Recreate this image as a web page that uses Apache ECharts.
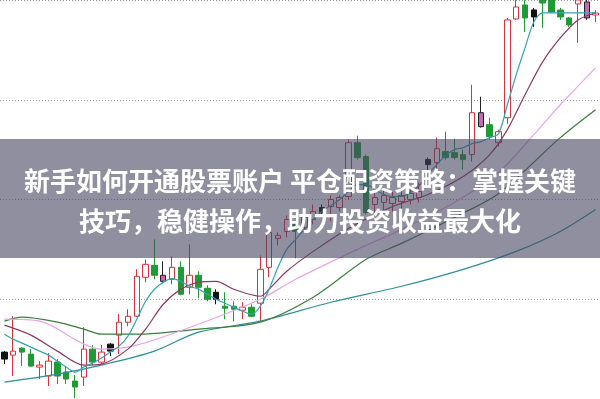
<!DOCTYPE html>
<html>
<head>
<meta charset="utf-8">
<script src="https://cdn.jsdelivr.net/npm/echarts@6/dist/echarts.min.js"></script>
<style>
  html, body { margin: 0; padding: 0; background: #fff; }
  #chart { width: 600px; height: 399px; }
</style>
</head>
<body>
<div id="chart"></div>
<script>
// K线 [开, 收, 低, 高]
const ohlc = [
  [8.47, 8.40, 8.35, 8.48], [8.44, 8.48, 8.23, 8.83], [8.51, 8.47, 8.33, 8.52], [8.45, 8.33, 8.32, 8.50],
  [8.32, 8.34, 8.20, 8.38], [8.23, 8.38, 8.13, 8.46], [8.37, 8.23, 8.15, 8.40], [8.27, 8.20, 8.15, 8.33],
  [8.18, 8.12, 8.01, 8.24], [8.22, 8.50, 8.13, 8.72], [8.50, 8.37, 8.34, 8.54], [8.37, 8.47, 8.35, 8.54],
  [8.55, 8.48, 8.43, 8.56], [8.64, 8.77, 8.45, 8.85], [8.77, 8.83, 8.73, 8.90], [8.83, 9.23, 8.82, 9.30],
  [9.22, 9.35, 9.17, 9.40], [9.34, 9.24, 9.20, 9.60], [9.24, 9.18, 9.16, 9.38], [9.20, 9.32, 9.15, 9.43],
  [9.32, 9.05, 9.04, 9.38], [9.12, 9.24, 9.05, 9.55], [9.24, 9.12, 9.01, 9.28], [9.11, 9.00, 8.98, 9.14],
  [9.07, 9.00, 8.95, 9.10], [8.93, 8.91, 8.80, 9.07], [8.93, 8.90, 8.78, 8.98], [8.89, 8.92, 8.80, 8.97],
  [8.92, 8.83, 8.82, 8.95], [8.96, 9.30, 8.78, 9.44], [9.32, 9.67, 9.22, 9.69], [9.61, 9.64, 9.54, 9.67],
  [9.68, 9.80, 9.62, 9.84], [9.78, 9.68, 9.41, 9.90], [9.72, 9.82, 9.68, 9.90], [9.80, 9.88, 9.75, 9.95],
  [9.92, 9.87, 9.82, 9.95], [9.93, 10.00, 9.78, 10.04], [9.92, 10.02, 9.88, 10.04], [10.03, 10.57, 10.00, 10.60],
  [10.57, 10.42, 10.40, 10.64], [10.43, 9.87, 9.85, 10.45], [9.95, 10.02, 9.85, 10.07], [9.97, 10.04, 9.82, 10.12],
  [9.96, 10.02, 9.88, 10.08], [9.98, 10.04, 9.90, 10.10], [10.00, 10.06, 9.95, 10.12], [10.02, 10.08, 9.97, 10.17],
  [10.40, 10.35, 10.28, 10.42], [10.37, 10.51, 10.28, 10.62], [10.48, 10.42, 10.40, 10.68], [10.47, 10.42, 10.40, 10.61],
  [10.45, 10.40, 10.30, 10.50], [10.45, 10.87, 10.38, 11.15], [10.87, 10.73, 10.72, 11.03], [10.75, 10.63, 10.60, 10.82],
  [10.57, 10.68, 10.53, 10.70], [10.82, 11.80, 10.76, 11.82], [11.81, 11.93, 11.80, 12.02], [11.95, 11.82, 11.68, 12.05],
  [11.90, 11.83, 11.73, 11.92], [12.05, 11.97, 11.72, 12.10], [12.02, 11.88, 11.87, 12.10], [11.90, 11.83, 11.80, 11.92],
  [11.82, 11.75, 11.73, 11.83], [11.96, 12.00, 11.57, 12.05], [11.98, 11.82, 11.80, 12.00], [11.85, 11.87, 11.78, 11.90]
];

// 均线（读图估值，空位由折线连接）
const ma5 = [
  8.65, 8.60, 8.56, 8.52, 8.48, 8.44, 8.38, 8.32, 8.27, 8.32, 8.36, 8.41,
  8.47, 8.53, 8.63, 8.80, 8.98, 9.10, 9.17, 9.21, 9.18, 9.13, 9.10, 9.05,
  9.00, 8.96, 8.92, 8.88, 8.85, 8.93, 9.10, 9.32, 9.50, 9.60, 9.70, 9.80,
  9.88, 9.94, 10.00, 10.08, 10.15, 10.15, 10.10, 10.05, 10.03, 10.03, 10.07, 10.14,
  10.25, 10.35, 10.44, 10.50, 10.52, 10.56, 10.58, 10.62, 10.66, 10.95, 11.25, 11.52,
  11.78, 11.87, 11.87, 11.87, 11.87, 11.87, 11.87, 11.87
];
const ma10 = {0: 8.74, 3: 8.64, 6: 8.48, 9: 8.34, 11: 8.35, 14: 8.50, 16: 8.70, 18: 8.95, 20: 9.10,
  22: 9.17, 24: 9.18, 26: 9.10, 29: 9.03, 30: 9.10, 32: 9.28, 35: 9.48, 39: 9.71, 44: 9.93, 48: 10.05,
  52: 10.23, 55: 10.45, 57: 10.70, 59: 11.05, 61: 11.38, 63: 11.62, 65: 11.80, 67: 11.87};
const ma20 = {0: 8.80, 4: 8.78, 9: 8.55, 11: 8.50, 15: 8.54, 22: 8.75, 29: 9.00, 33: 9.20, 40: 9.50,
  45: 9.70, 51: 9.97, 56: 10.27, 60: 10.65, 63: 10.95, 67: 11.32};
const ma60 = {0: 8.78, 2: 8.82, 6: 8.77, 9: 8.70, 11: 8.65, 15: 8.65, 22: 8.70, 29: 8.77, 35: 9.02,
  41: 9.40, 45: 9.56, 51: 9.82, 56: 10.06, 63: 10.62, 67: 10.90};
const ma120 = {0: 8.17, 6: 8.25, 11: 8.34, 17: 8.48, 22: 8.67, 29: 8.78, 37: 8.97, 45: 9.13,
  52: 9.30, 58: 9.48, 63: 9.68, 67: 9.90};

const darkBars = [0, 12, 24, 36, 48, 60];
const pinkBars = [18, 54, 66];
const titleLines = ['新手如何开通股票账户 平仓配资策略：掌握关键', '技巧，稳健操作，助力投资收益最大化'];

const days = ohlc.map((_, i) => String(i + 1));
const toSeries = obj => days.map((_, i) => (obj[i] !== undefined ? obj[i] : null));

const kData = ohlc.map((v, i) => {
  if (darkBars.includes(i)) {
    return { value: v, itemStyle: { color: '#111', color0: '#111', borderColor: '#111', borderColor0: '#111' } };
  }
  if (pinkBars.includes(i)) {
    return { value: v, itemStyle: { color: '#c46ab4', color0: '#c46ab4', borderColor: '#222', borderColor0: '#222' } };
  }
  return v;
});

function maLine(data, color) {
  return {
    type: 'line',
    data: data,
    smooth: 0.3,
    connectNulls: true,
    symbol: 'none',
    silent: true,
    lineStyle: { color: color, width: 1.2 },
    z: 3
  };
}

const myChart = echarts.init(document.getElementById('chart'));
myChart.setOption({
  animation: false,
  backgroundColor: '#fff',
  grid: { left: 0, right: 0, top: 0, bottom: 0 },
  xAxis: {
    type: 'category',
    data: days,
    boundaryGap: true,
    axisLine: { show: false },
    axisTick: { show: false },
    axisLabel: { show: false }
  },
  yAxis: {
    type: 'value',
    min: 8,
    max: 12,
    interval: 1,
    axisLine: { show: false },
    axisTick: { show: false },
    axisLabel: { show: false },
    splitLine: { lineStyle: { color: '#9a9a9a', type: [1, 2], width: 1 } }
  },
  series: [
    {
      type: 'candlestick',
      data: kData,
      barWidth: 6,
      itemStyle: {
        color: '#ffffff',
        color0: '#1f9a35',
        borderColor: '#d8323c',
        borderColor0: '#1f9a35',
        borderWidth: 1
      },
      z: 2
    },
    maLine(ma120, '#2f8f97'),
    maLine(toSeries(ma60), '#3d7d3d'),
    maLine(toSeries(ma20), '#e6a6e6'),
    maLine(toSeries(ma10), '#8a3a62'),
    maLine(ma5, '#35a3b3')
  ].map((s, i) => (i === 1 ? Object.assign(s, { data: toSeries(ma120) }) : s)),
  graphic: [
    {
      type: 'rect',
      shape: { x: 0, y: 139, width: 600, height: 119 },
      style: { fill: 'rgba(70, 68, 95, 0.6)' },
      z: 100
    },
    {
      type: 'text',
      x: 300,
      y: 181,
      style: {
        text: titleLines[0],
        fill: '#fff',
        font: 'bold 26px "Noto Sans CJK SC"',
        textAlign: 'center',
        textVerticalAlign: 'middle'
      },
      z: 101
    },
    {
      type: 'text',
      x: 300,
      y: 221,
      style: {
        text: titleLines[1],
        fill: '#fff',
        font: 'bold 26px "Noto Sans CJK SC"',
        textAlign: 'center',
        textVerticalAlign: 'middle'
      },
      z: 101
    }
  ]
});
</script>
</body>
</html>
